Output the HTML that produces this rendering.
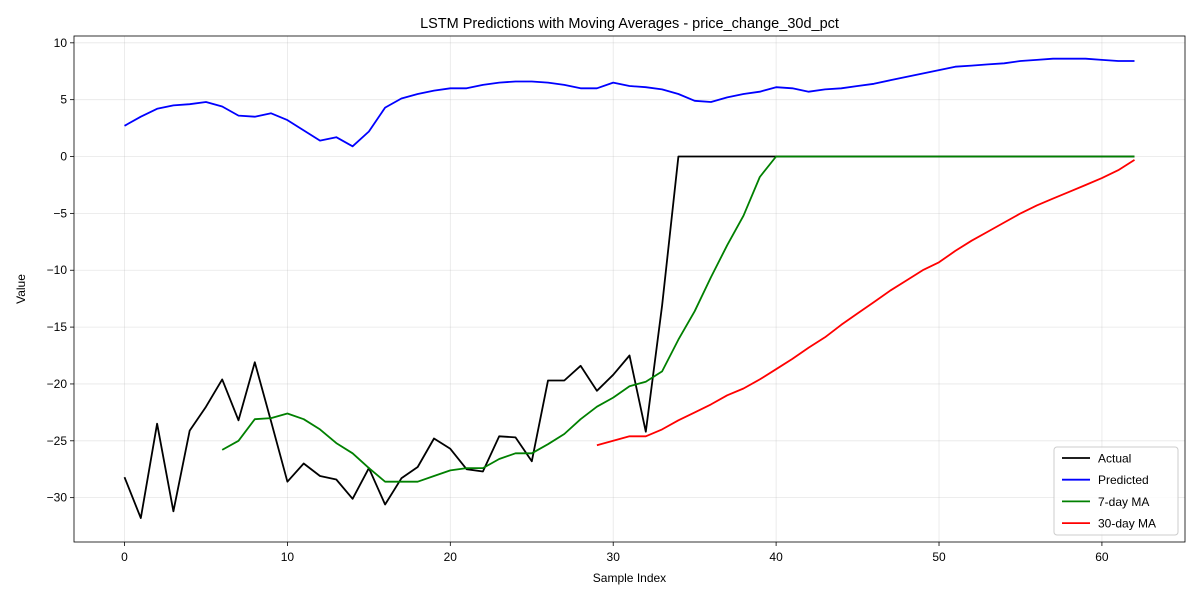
<!DOCTYPE html>
<html><head><meta charset="utf-8"><style>
body{margin:0;background:#fff}
svg{font-family:"Liberation Sans","DejaVu Sans",sans-serif}
</style></head><body>
<svg id="chart" width="1200" height="600" xmlns="http://www.w3.org/2000/svg"></svg>
<script>
const xTicks=[0,10,20,30,40,50,60];
const yTicks=[10,5,0,-5,-10,-15,-20,-25,-30];
const actual=[-28.2,-31.8,-23.5,-31.2,-24.1,-22.0,-19.6,-23.2,-18.1,-23.3,-28.6,-27.0,-28.1,-28.4,-30.1,-27.4,-30.6,-28.3,-27.3,-24.8,-25.7,-27.5,-27.7,-24.6,-24.7,-26.8,-19.7,-19.7,-18.4,-20.6,-19.2,-17.5,-24.2,-13.1,0,0,0,0,0,0,0,0,0,0,0,0,0,0,0,0,0,0,0,0,0,0,0,0,0,0,0,0,0];
const predicted=[2.7,3.5,4.2,4.5,4.6,4.8,4.4,3.6,3.5,3.8,3.2,2.3,1.4,1.7,0.9,2.2,4.3,5.1,5.5,5.8,6.0,6.0,6.3,6.5,6.6,6.6,6.5,6.3,6.0,6.0,6.5,6.2,6.1,5.9,5.5,4.9,4.8,5.2,5.5,5.7,6.1,6.0,5.7,5.9,6.0,6.2,6.4,6.7,7.0,7.3,7.6,7.9,8.0,8.1,8.2,8.4,8.5,8.6,8.6,8.6,8.5,8.4,8.4];
const ma7Start=6;
const ma7=[-25.8,-25.0,-23.1,-23.0,-22.6,-23.1,-24.0,-25.2,-26.1,-27.4,-28.6,-28.6,-28.6,-28.1,-27.6,-27.4,-27.4,-26.6,-26.1,-26.1,-25.3,-24.4,-23.1,-22.0,-21.2,-20.2,-19.8,-18.9,-16.1,-13.6,-10.6,-7.8,-5.2,-1.8,0,0,0,0,0,0,0,0,0,0,0,0,0,0,0,0,0,0,0,0,0,0,0];
const ma30Start=29;
const ma30=[-25.4,-25.0,-24.6,-24.6,-24.0,-23.2,-22.5,-21.8,-21.0,-20.4,-19.6,-18.7,-17.8,-16.8,-15.9,-14.8,-13.8,-12.8,-11.8,-10.9,-10.0,-9.3,-8.3,-7.4,-6.6,-5.8,-5.0,-4.3,-3.7,-3.1,-2.5,-1.9,-1.2,-0.3];

const L=74,R=1185,T=36,B=542;
const xmin=-3.1,xmax=65.1,ymin=-33.9,ymax=10.6;
const sx=v=>L+(v-xmin)/(xmax-xmin)*(R-L);
const sy=v=>B-(v-ymin)/(ymax-ymin)*(B-T);
const svg=document.getElementById('chart');
const NS='http://www.w3.org/2000/svg';
function mk(tag,attrs,parent){const e=document.createElementNS(NS,tag);for(const k in attrs)e.setAttribute(k,attrs[k]);(parent||svg).appendChild(e);return e;}

xTicks.forEach(t=>{
  const g=mk('line',{x1:sx(t),x2:sx(t),y1:T,y2:B,stroke:'#b0b0b0','stroke-opacity':0.3,'stroke-width':0.8});
  
  
  mk('line',{x1:sx(t),x2:sx(t),y1:B,y2:B+4,stroke:'#000','stroke-width':0.8});
  const tx=mk('text',{x:sx(t),y:B+19,'text-anchor':'middle','font-size':12});
  tx.textContent=t;
  
  
});
yTicks.forEach(t=>{
  const g=mk('line',{x1:L,x2:R,y1:sy(t),y2:sy(t),stroke:'#b0b0b0','stroke-opacity':0.3,'stroke-width':0.8});
  
  
  mk('line',{x1:L-4,x2:L,y1:sy(t),y2:sy(t),stroke:'#000','stroke-width':0.8});
  const tx=mk('text',{x:L-7,y:sy(t)+4,'text-anchor':'end','font-size':12});
  tx.textContent=t<0?'\u2212'+(-t):t;
  
  
});

function series(vals,start,color,name){
  const pts=vals.map((v,i)=>sx(i+start).toFixed(1)+','+sy(v).toFixed(1)).join(' ');
  const p=mk('polyline',{points:pts,fill:'none',stroke:color,'stroke-width':1.8,'stroke-linejoin':'round'});
  
  
}
series(actual,0,'#000000','actual-line');
series(predicted,0,'#0000ff','predicted-line');
series(ma7,ma7Start,'#008000','ma7-line');
series(ma30,ma30Start,'#ff0000','ma30-line');

const frame=mk('rect',{x:L,y:T,width:R-L,height:B-T,fill:'none',stroke:'#000','stroke-width':0.8});



const title=mk('text',{x:(L+R)/2,y:28,'text-anchor':'middle','font-size':14.5});
title.textContent='LSTM Predictions with Moving Averages - price_change_30d_pct';


const xl=mk('text',{x:(L+R)/2,y:582,'text-anchor':'middle','font-size':12});
xl.textContent='Sample Index';


const yl=mk('text',{x:25,y:(T+B)/2,'text-anchor':'middle','font-size':12,transform:'rotate(-90 25 '+((T+B)/2)+')'});
yl.textContent='Value';



const lg=mk('g',{});


mk('rect',{x:1054,y:447,width:124,height:88,rx:3,fill:'#fff','fill-opacity':0.8,stroke:'#ccc','stroke-width':1},lg);
const legendNames=['Actual','Predicted','7-day MA','30-day MA'];
const legendColors=['#000000','#0000ff','#008000','#ff0000'];
legendNames.forEach((n,i)=>{
  const y=458+i*21.7;
  const e=mk('g',{},lg);
  
  
  mk('line',{x1:1062,x2:1090,y1:y,y2:y,stroke:legendColors[i],'stroke-width':1.8},e);
  const t=mk('text',{x:1098,y:y+4.5,'font-size':12},e);
  t.textContent=n;
});
</script>
</body></html>
